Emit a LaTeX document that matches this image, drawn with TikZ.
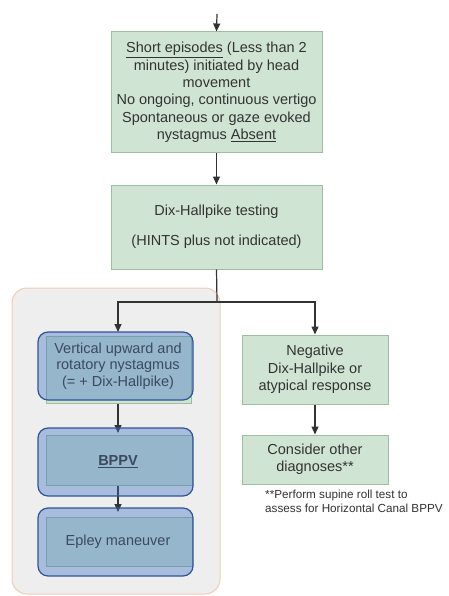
\documentclass[tikz,border=0pt]{standalone}
\usepackage{fontspec}
\setmainfont{Liberation Sans}
\usetikzlibrary{arrows.meta}
\definecolor{boxgreen}{HTML}{D0E4D3}
\definecolor{boxgreenline}{HTML}{9CC09F}
\definecolor{boxblue}{RGB}{65,113,195}
\definecolor{boxblueline}{HTML}{2F5597}
\definecolor{panelfill}{HTML}{EEEEEF}
\definecolor{panelline}{HTML}{F1CDB6}
\definecolor{ink}{HTML}{333333}
\definecolor{blueink}{HTML}{3B4A5E}
\tikzset{
  greenbox/.style={draw=boxgreenline, line width=1pt, fill=boxgreen, inner sep=0pt,
    align=center, text=ink, font=\fontsize{14.5}{17.4}\selectfont},
  bluebox/.style={draw=boxblueline, line width=1.2pt, fill=boxblue, fill opacity=0.4,
    draw opacity=1, text opacity=1, rounded corners=10pt, inner sep=0pt,
    align=center, text=blueink, font=\fontsize{14.5}{16.7}\selectfont},
  panel/.style={draw=panelline, line width=1pt, fill=panelfill, rounded corners=15pt},
  arr/.style={draw=ink, line width=1.2pt, -{Triangle[width=7pt,length=8pt]}},
  link/.style={draw=ink, line width=1.2pt},
  note/.style={text=ink, font=\fontsize{11.7}{14}\selectfont, align=left, inner sep=0pt}
}
\begin{document}
\begin{tikzpicture}[x=1pt,y=-1pt]
\useasboundingbox (0,0) rectangle (448,596);
\fill[white] (0,0) rectangle (448,596);

% grey panel holding the positive branch
\draw[panel] (12,288) rectangle (220,594);

% main column
\coordinate (entry) at (217,14);
\node[greenbox, minimum width=211pt, minimum height=121pt] (symptoms) at (216.5,92.5)
  {\underline{Short episodes} (Less than 2\\ minutes) initiated by head\\ movement\\
   No ongoing, continuous vertigo\\ Spontaneous or gaze evoked\\ nystagmus \underline{Absent}};
\node[greenbox, minimum width=211pt, minimum height=84pt] (dixtest) at (216.5,227)
  {Dix-Hallpike testing\\[12.6pt](HINTS plus not indicated)};
\draw[arr] (entry) -- (symptoms.north);
\draw[arr] (symptoms.south) -- (dixtest.north);

% positive branch: green bases
\node[greenbox, minimum width=145pt, minimum height=67pt] (posbase) at (118.5,369.5) {};
\node[greenbox, minimum width=146pt, minimum height=50pt] (bppvbase) at (119,460) {};
\node[greenbox, minimum width=146pt, minimum height=49pt] (epleybase) at (119,541.5) {};

% negative branch
\node[greenbox, minimum width=146pt, minimum height=69pt] (negative) at (315,369.5)
  {Negative\\ Dix-Hallpike or\\ atypical response};
\node[greenbox, minimum width=146pt, minimum height=49pt, font=\fontsize{14.5}{16.7}\selectfont] (other) at (315,459.5)
  {Consider other\\ diagnoses**};
\node[note, anchor=north west] (footnote) at (265,490)
  {**Perform supine roll test to\\ assess for Horizontal Canal BPPV};

% blue overlays sit on these, so the links are drawn first
\coordinate (split) at (217,302);
\coordinate (posin) at (118,332);
\coordinate (bppvin) at (118,433);
\coordinate (epleyin) at (118,512);
\draw[link] (dixtest.south) -- (split);
\draw[arr] (split) -| (posin);
\draw[arr] (split) -| (negative.north);
\draw[arr] (negative.south) -- (other.north);
\draw[arr] (posbase.south -| posin) -- (bppvin);
\draw[arr] (bppvbase.south -| posin) -- (epleyin);

% blue overlays with labels
\node[bluebox, minimum width=155pt, minimum height=68pt] (positive) at (115.5,366)
  {\hspace*{5pt}Vertical upward and\\ \hspace*{5pt}rotatory nystagmus\\ \hspace*{5pt}(= + Dix-Hallpike)};
\node[bluebox, minimum width=155pt, minimum height=68pt] (bppv) at (115.5,462)
  {\hspace*{5pt}\underline{\textbf{BPPV}}};
\node[bluebox, minimum width=155pt, minimum height=68pt] (epley) at (115.5,542)
  {\hspace*{5pt}Epley maneuver};
\end{tikzpicture}
\end{document}
